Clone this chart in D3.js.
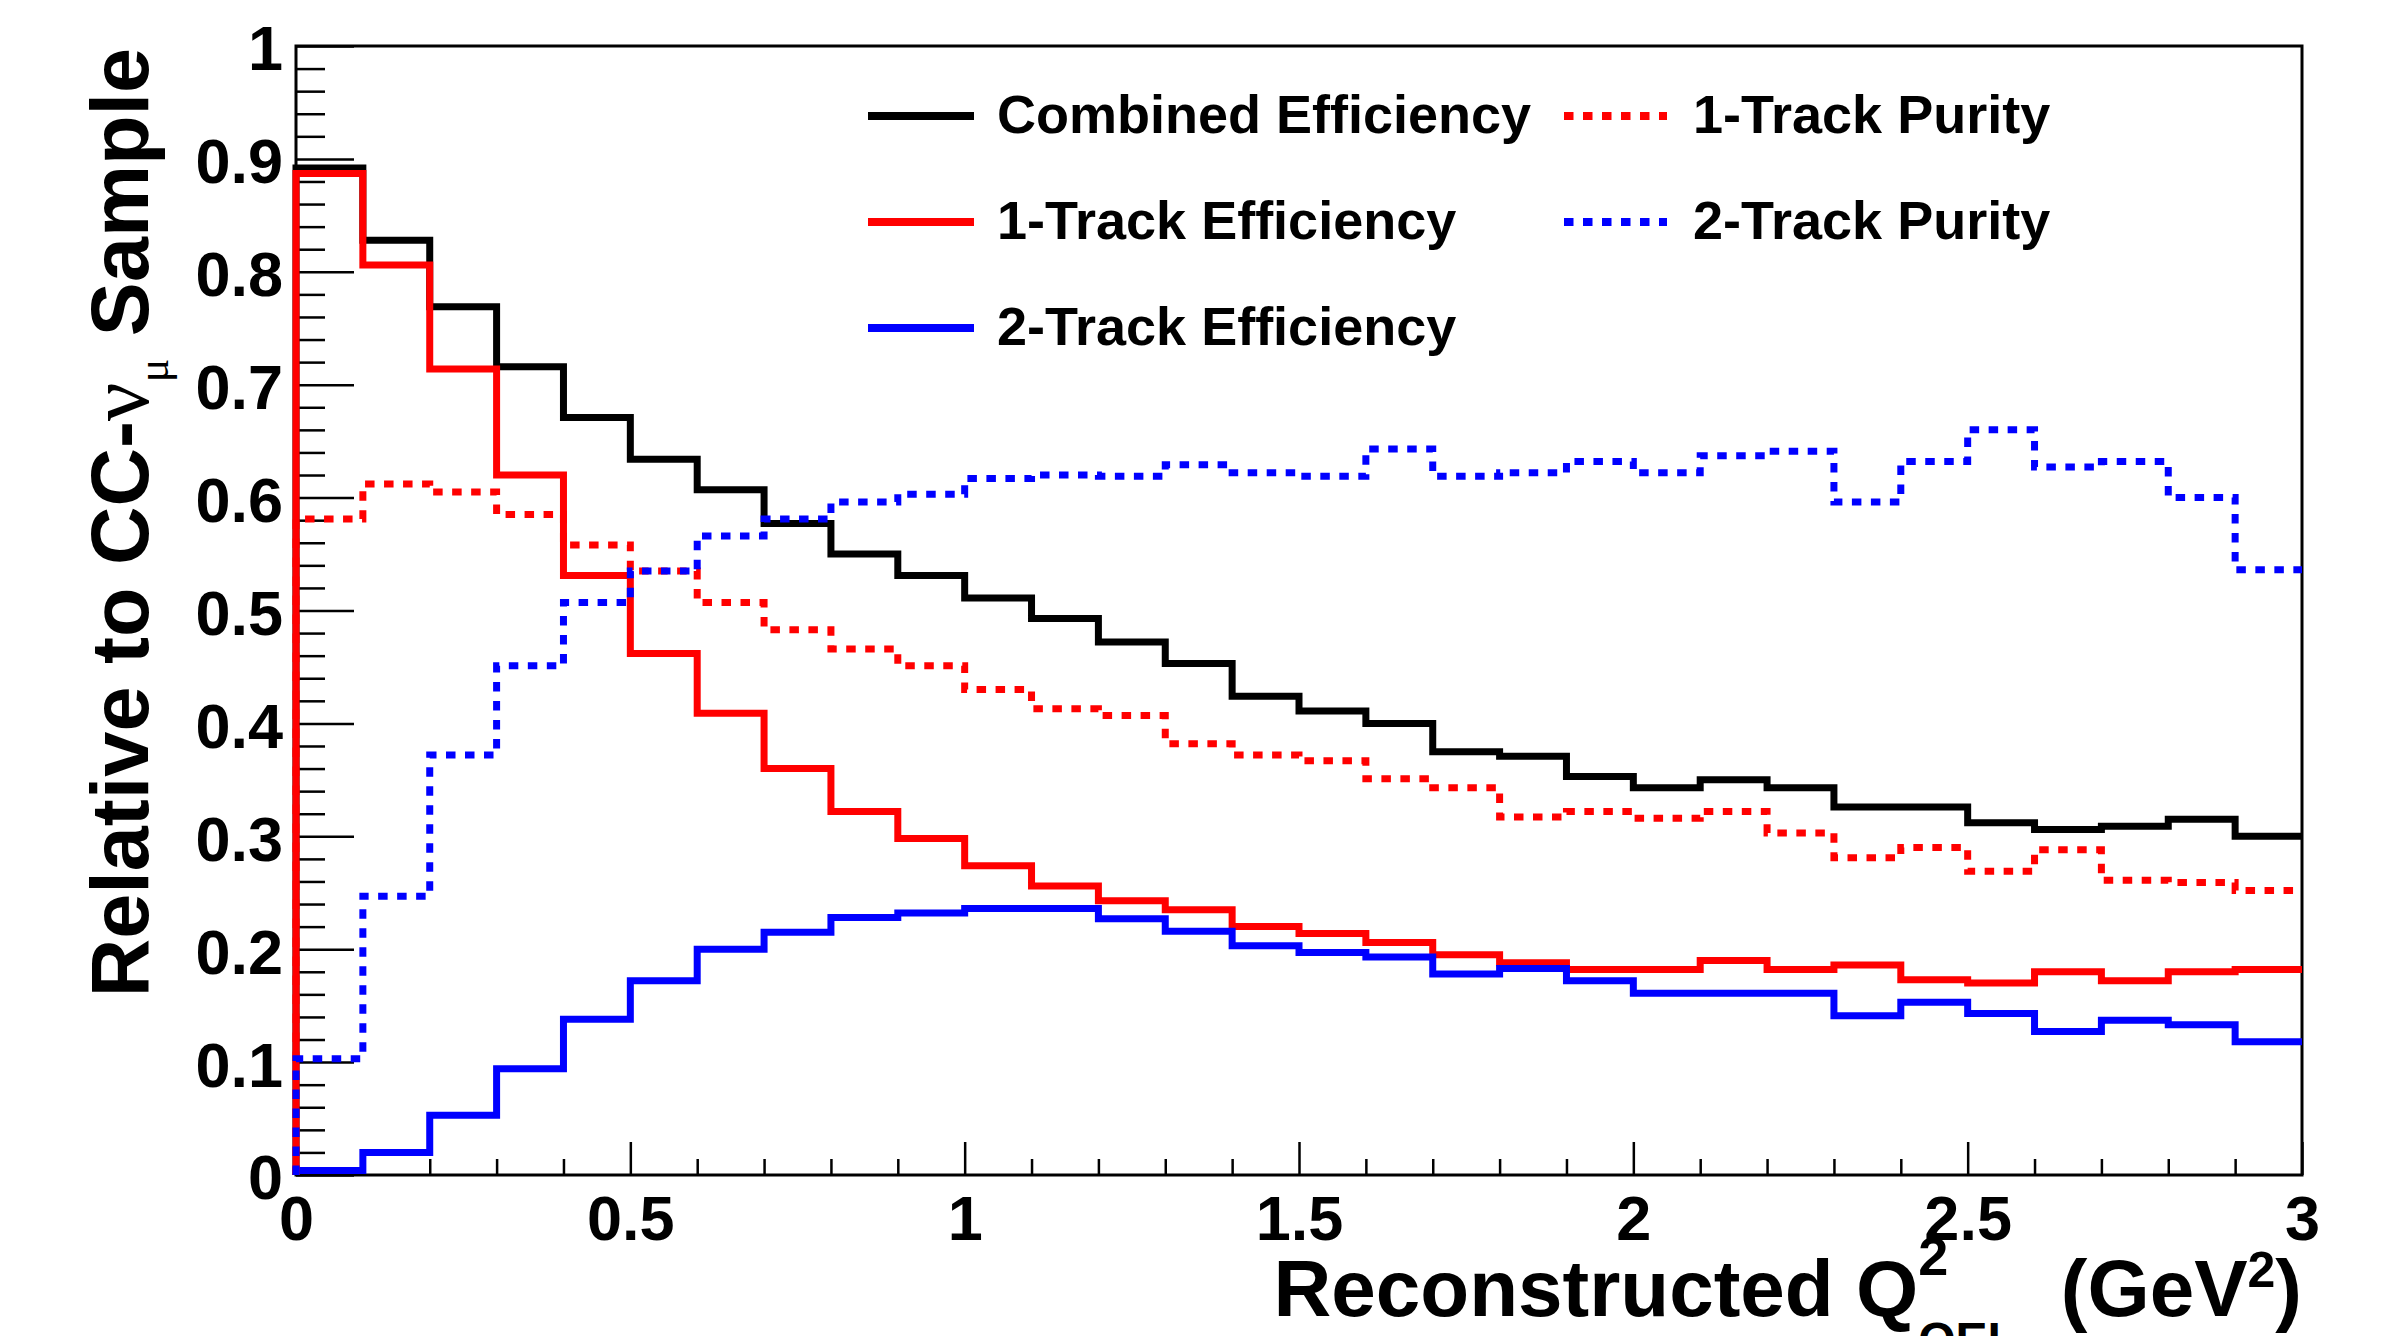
<!DOCTYPE html>
<html>
<head>
<meta charset="utf-8">
<script src="https://cdn.jsdelivr.net/npm/d3@7"></script>
<style>
  html, body { margin: 0; padding: 0; background: #fff; }
  svg { display: block; }
</style>
</head>
<body>
<svg id="chart" width="2390" height="1336"></svg>
<script>
// Bin edges of the reconstructed Q^2 histogram (GeV^2), 30 bins of 0.1
const binEdges = [0.0, 0.1, 0.2, 0.3, 0.4, 0.5, 0.6, 0.7, 0.8, 0.9,
                  1.0, 1.1, 1.2, 1.3, 1.4, 1.5, 1.6, 1.7, 1.8, 1.9,
                  2.0, 2.1, 2.2, 2.3, 2.4, 2.5, 2.6, 2.7, 2.8, 2.9, 3.0];

// Bin contents, relative to the CC-numu sample
const combinedEff = [0.892, 0.828, 0.769, 0.716, 0.671, 0.634, 0.607, 0.577, 0.550, 0.531,
                     0.511, 0.493, 0.472, 0.453, 0.424, 0.411, 0.400, 0.375, 0.371, 0.353,
                     0.343, 0.350, 0.343, 0.326, 0.326, 0.312, 0.306, 0.309, 0.315, 0.300];
const oneTrackEff = [0.887, 0.806, 0.714, 0.620, 0.531, 0.462, 0.409, 0.360, 0.322, 0.298,
                     0.274, 0.256, 0.243, 0.235, 0.220, 0.214, 0.206, 0.195, 0.188, 0.182,
                     0.182, 0.190, 0.182, 0.186, 0.173, 0.170, 0.180, 0.172, 0.180, 0.182];
const twoTrackEff = [0.004, 0.020, 0.053, 0.094, 0.138, 0.172, 0.200, 0.215, 0.228, 0.232,
                     0.236, 0.236, 0.227, 0.216, 0.203, 0.197, 0.193, 0.178, 0.183, 0.172,
                     0.161, 0.161, 0.161, 0.141, 0.153, 0.143, 0.127, 0.137, 0.133, 0.118];
const oneTrackPur = [0.581, 0.612, 0.605, 0.585, 0.558, 0.535, 0.507, 0.483, 0.466, 0.451,
                     0.430, 0.413, 0.407, 0.382, 0.372, 0.367, 0.351, 0.343, 0.317, 0.322,
                     0.316, 0.322, 0.303, 0.281, 0.290, 0.269, 0.288, 0.261, 0.259, 0.252];
const twoTrackPur = [0.103, 0.247, 0.372, 0.451, 0.507, 0.535, 0.566, 0.581, 0.596, 0.603,
                     0.617, 0.620, 0.619, 0.629, 0.622, 0.619, 0.643, 0.619, 0.622, 0.632,
                     0.622, 0.637, 0.641, 0.596, 0.632, 0.660, 0.627, 0.632, 0.600, 0.536];

// Axis tick labels
const xMajorTicks = [0, 0.5, 1, 1.5, 2, 2.5, 3];
const yMajorTicks = [0, 0.1, 0.2, 0.3, 0.4, 0.5, 0.6, 0.7, 0.8, 0.9, 1];

// Series, in drawing / legend order
const series = [
  { name: "Combined Efficiency", values: combinedEff, color: "#000000", dotted: false },
  { name: "1-Track Efficiency",  values: oneTrackEff, color: "#ff0000", dotted: false },
  { name: "2-Track Efficiency",  values: twoTrackEff, color: "#0000ff", dotted: false },
  { name: "1-Track Purity",      values: oneTrackPur, color: "#ff0000", dotted: true },
  { name: "2-Track Purity",      values: twoTrackPur, color: "#0000ff", dotted: true }
];

const SANS = "'Liberation Sans', Arial, Helvetica, sans-serif";
const SERIF = "'Liberation Serif', 'DejaVu Serif', 'Times New Roman', serif";
const DOT = "9.5 9.5";

const svg = d3.select("#chart");

const x = d3.scaleLinear().domain([0, 3]).range([296, 2302]);
const y = d3.scaleLinear().domain([0, 1]).range([1175, 46]);

const fmt = d => String(+d.toFixed(1));

function styleAxis(g) {
  g.select(".domain").remove();
  g.attr("font-family", SANS).attr("font-weight", "bold").attr("font-size", 63);
  g.selectAll(".tick line").attr("stroke", "#000").attr("stroke-width", 2.5);
  g.selectAll(".tick text").attr("fill", "#000");
}

// minor ticks
const yMinor = d3.range(0, 51).map(i => i / 50).filter(v => Math.round(v * 50) % 5 !== 0);
const xMinor = d3.range(0, 31).map(i => i / 10).filter(v => Math.round(v * 10) % 5 !== 0);

svg.append("g")
  .attr("transform", `translate(${x(0)},0)`)
  .call(d3.axisLeft(y).tickValues(yMinor).tickSize(-29).tickSizeOuter(0).tickFormat(""))
  .call(styleAxis);

svg.append("g")
  .attr("transform", `translate(${x(0)},0)`)
  .call(d3.axisLeft(y).tickValues(yMajorTicks).tickSize(-58).tickSizeOuter(0).tickPadding(13).tickFormat(fmt))
  .call(styleAxis)
  .call(g => g.selectAll(".tick text").attr("dy", "0.38em"));

svg.append("g")
  .attr("transform", `translate(0,${y(0)})`)
  .call(d3.axisBottom(x).tickValues(xMinor).tickSize(-16).tickSizeOuter(0).tickFormat(""))
  .call(styleAxis);

svg.append("g")
  .attr("transform", `translate(0,${y(0)})`)
  .call(d3.axisBottom(x).tickValues(xMajorTicks).tickSize(-33).tickSizeOuter(0).tickPadding(20).tickFormat(fmt))
  .call(styleAxis);

// frame
svg.append("rect")
  .attr("x", x(0)).attr("y", y(1))
  .attr("width", x(3) - x(0)).attr("height", y(0) - y(1))
  .attr("fill", "none").attr("stroke", "#000").attr("stroke-width", 3);

// histograms as step outlines
const step = d3.line()
  .x(d => x(d[0]))
  .y(d => y(d[1]))
  .curve(d3.curveStepAfter);

series.forEach(s => {
  const pts = [[binEdges[0], 0]]
    .concat(s.values.map((v, i) => [binEdges[i], v]))
    .concat([[binEdges[binEdges.length - 1], s.values[s.values.length - 1]]]);
  svg.append("path")
    .attr("d", step(pts))
    .attr("fill", "none")
    .attr("stroke", s.color)
    .attr("stroke-width", 7)
    .attr("stroke-linejoin", "miter")
    .attr("stroke-linecap", "butt")
    .attr("stroke-dasharray", s.dotted ? DOT : null);
});

// legend, two columns
const legendCols = [
  { x1: 868, x2: 974, tx: 997 },
  { x1: 1564, x2: 1667, tx: 1693 }
];
const legendRows = [116, 222, 328];
const legendSlots = [[0, 0], [0, 1], [0, 2], [1, 0], [1, 1]];

const legend = svg.append("g");
series.forEach((s, i) => {
  const col = legendCols[legendSlots[i][0]];
  const ry = legendRows[legendSlots[i][1]];
  legend.append("line")
    .attr("x1", col.x1).attr("x2", col.x2)
    .attr("y1", ry).attr("y2", ry)
    .attr("stroke", s.color).attr("stroke-width", 8)
    .attr("stroke-dasharray", s.dotted ? DOT : null);
  legend.append("text")
    .attr("x", col.tx).attr("y", ry + 17)
    .attr("font-family", SANS).attr("font-weight", "bold").attr("font-size", 54)
    .attr("fill", "#000")
    .text(s.name);
});

// x-axis title, right-aligned at the axis end
const xt = svg.append("g")
  .attr("font-family", SANS).attr("font-weight", "bold").attr("fill", "#000");
const xBase = 1316;
let cx = 0;
function piece(txt, size, dy) {
  const t = xt.append("text").attr("x", cx).attr("y", xBase + dy)
    .attr("font-size", size).text(txt);
  return t.node().getComputedTextLength();
}
cx += piece("Reconstructed Q", 80, 0);
const wSup = piece("2", 54, -41);
const wSub = piece("QEL", 48, 40);
cx += Math.max(wSup, wSub) + 44;
cx += piece("(GeV", 80, 0);
cx += piece("2", 50, -29);
cx += piece(")", 80, 0);
xt.attr("transform", `translate(${x(3) - cx},0)`);

// y-axis title, rotated and aligned to the top of the axis
const yt = svg.append("text")
  .attr("transform", "translate(148,48) rotate(-90)")
  .attr("text-anchor", "end")
  .attr("font-family", SANS).attr("font-weight", "bold").attr("font-size", 81)
  .attr("fill", "#000");
yt.append("tspan").text("Relative to CC-");
yt.append("tspan").attr("font-family", SERIF).attr("font-weight", "normal")
  .attr("font-size", 86).text("\u03BD");
yt.append("tspan").attr("font-family", SERIF).attr("font-weight", "normal")
  .attr("font-size", 44).attr("dy", 20).text("\u03BC");
yt.append("tspan").attr("dy", -20).text(" Sample");
</script>
</body>
</html>
